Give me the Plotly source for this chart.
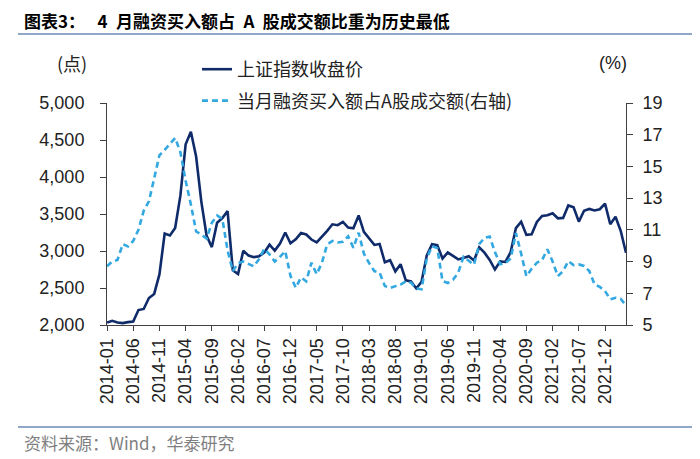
import plotly.graph_objects as go

# ---- data ----
months = [f"{y}-{m:02d}" for y in range(2014, 2023) for m in range(1, 13)][:100]

sh_close = [
    2033, 2056, 2033, 2026, 2039, 2048, 2202, 2217, 2364, 2420, 2683, 3235,
    3210, 3310, 3748, 4441, 4612, 4277, 3664, 3206, 3053, 3383, 3446, 3539,
    2738, 2688, 3004, 2938, 2917, 2930, 2979, 3085, 3005, 3100, 3250, 3104,
    3159, 3242, 3223, 3155, 3117, 3192, 3273, 3361, 3349, 3393, 3317, 3307,
    3481, 3259, 3169, 3082, 3095, 2847, 2876, 2725, 2821, 2603, 2588, 2494,
    2585, 2941, 3091, 3078, 2899, 2979, 2933, 2886, 2905, 2929, 2872, 3050,
    2977, 2880, 2750, 2860, 2852, 2985, 3310, 3396, 3218, 3225, 3392, 3473,
    3483, 3509, 3442, 3447, 3615, 3591, 3397, 3544, 3568, 3547, 3564, 3640,
    3362, 3462, 3270, 2976,
]

margin_share = [
    8.7, 9.0, 9.1, 10.1, 9.95, 10.3, 11.0, 12.2, 12.8, 14.3, 15.7, 16.05,
    16.4, 16.8, 15.9, 14.1, 12.6, 10.9, 10.7, 10.45, 11.45, 11.9, 11.7, 9.7,
    8.4, 8.9, 9.0, 8.85, 8.7, 9.15, 9.8, 9.45, 9.0, 9.3, 9.66, 8.1,
    7.35, 8.0, 7.75, 8.93, 8.2, 8.93, 10.08, 10.3, 10.2, 10.25, 10.6, 9.87,
    10.82, 9.5, 8.9, 8.4, 8.3, 7.46, 7.33, 7.45, 7.55, 7.75, 7.67, 7.3,
    7.25, 9.2, 9.97, 9.85, 7.77, 7.65, 7.85, 8.3, 9.3, 9.05, 8.8, 10.1,
    10.5, 10.58, 9.6, 8.83, 8.9, 9.2, 10.8, 9.5, 8.08, 8.55, 8.93, 9.1,
    9.77, 9.0, 8.08, 8.4, 9.03, 8.78, 8.82, 8.72, 8.4, 7.56, 7.4, 7.14,
    6.62, 6.72, 6.65, 6.23,
]

tick_months = months[::5]

left_range = [2000, 5000]
right_range = [5, 19]

title_text = "<b>图表3：\u2002 4\u2002月融资买入额占\u2002A\u2002股成交额比重为历史最低</b>"
source_text = "资料来源：Wind，华泰研究"
name1 = "上证指数收盘价"
name2 = "当月融资买入额占A股成交额(右轴)"

# ---- figure (page body has an 8px margin; positions below are in page pixels) ----
OFF = 8
W, H = 700 - OFF, 459 - OFF
L, T = 107 - OFF, 103 - OFF
R = W - (626 - OFF)
B = H - (325 - OFF)
pw, ph = W - L - R, H - T - B

def px_x(x):
    return (x - OFF - L) / pw

def px_y(y):
    return (H - B - (y - OFF)) / ph

NAVY = "#0F2B6A"
LBLUE = "#33A8E0"
NUMFONT = "Liberation Sans, Arial, Noto Sans CJK SC"
CJK = "Noto Sans CJK SC, Liberation Sans"

fig = go.Figure()
fig.add_trace(go.Scatter(
    x=months, y=sh_close, name=name1, mode="lines",
    line=dict(color=NAVY, width=2.6), legendgroup="a",
))
fig.add_trace(go.Scatter(
    x=months, y=margin_share, name=name2, mode="lines", yaxis="y2",
    line=dict(color=LBLUE, width=2.6, dash="6px,4px"), legendgroup="b",
))

axis_col = "#404040"
fig.update_layout(
    width=W, height=H,
    margin=dict(l=L, r=R, t=T, b=B, autoexpand=False),
    paper_bgcolor="white", plot_bgcolor="white",
    showlegend=True,
    legend=dict(
        x=px_x(197), xanchor="left",
        y=px_y(51), yanchor="top",
        orientation="v", font=dict(size=18, family=CJK, color="#222"),
        bgcolor="rgba(0,0,0,0)", tracegroupgap=5,
    ),
    annotations=[
        dict(text=title_text, x=px_x(22), y=px_y(20), xref="paper", yref="paper",
             showarrow=False, xanchor="left", yanchor="middle",
             font=dict(size=17, family=CJK, color="#000")),
        dict(text="(点)", x=px_x(72), y=px_y(63), xref="paper", yref="paper",
             showarrow=False, xanchor="center", yanchor="middle",
             font=dict(size=18, family=CJK, color="#222")),
        dict(text="(%)", x=px_x(613), y=px_y(63), xref="paper", yref="paper",
             showarrow=False, xanchor="center", yanchor="middle",
             font=dict(size=18, family=NUMFONT, color="#222")),
        dict(text=source_text, x=px_x(22), y=px_y(442), xref="paper", yref="paper",
             showarrow=False, xanchor="left", yanchor="middle",
             font=dict(size=17, family=CJK, color="#7F7F7F")),
    ],
    xaxis=dict(
        type="category", range=[0, len(months) - 1],
        tickmode="array", tickvals=tick_months, ticktext=tick_months,
        tickangle=-90, ticks="outside", ticklen=5, tickcolor=axis_col,
        showline=True, linecolor=axis_col, linewidth=1,
        showgrid=False, zeroline=False, automargin=False,
        tickfont=dict(size=18, family=NUMFONT, color="#222"),
    ),
    yaxis=dict(
        range=left_range, dtick=500, tick0=2000, tickformat=",",
        ticks="outside", ticklen=6, tickcolor=axis_col,
        showline=True, linecolor=axis_col, linewidth=1,
        showgrid=False, zeroline=False, ticklabelstandoff=12, automargin=False,
        tickfont=dict(size=18, family=NUMFONT, color="#222"),
    ),
    yaxis2=dict(
        range=right_range, dtick=2, tick0=5, overlaying="y", side="right",
        ticks="outside", ticklen=6, tickcolor=axis_col,
        showline=True, linecolor=axis_col, linewidth=1,
        showgrid=False, zeroline=False, ticklabelstandoff=6, automargin=False,
        tickfont=dict(size=18, family=NUMFONT, color="#222"),
    ),
    shapes=[
        dict(type="line", xref="paper", yref="paper",
             x0=px_x(18), x1=px_x(700), y0=px_y(34), y1=px_y(34),
             line=dict(color="#8FA8C8", width=2)),
        dict(type="line", xref="paper", yref="paper",
             x0=px_x(18), x1=px_x(700), y0=px_y(427), y1=px_y(427),
             line=dict(color="#8FA8C8", width=2)),
    ],
)

fig.write_html("out.html")
